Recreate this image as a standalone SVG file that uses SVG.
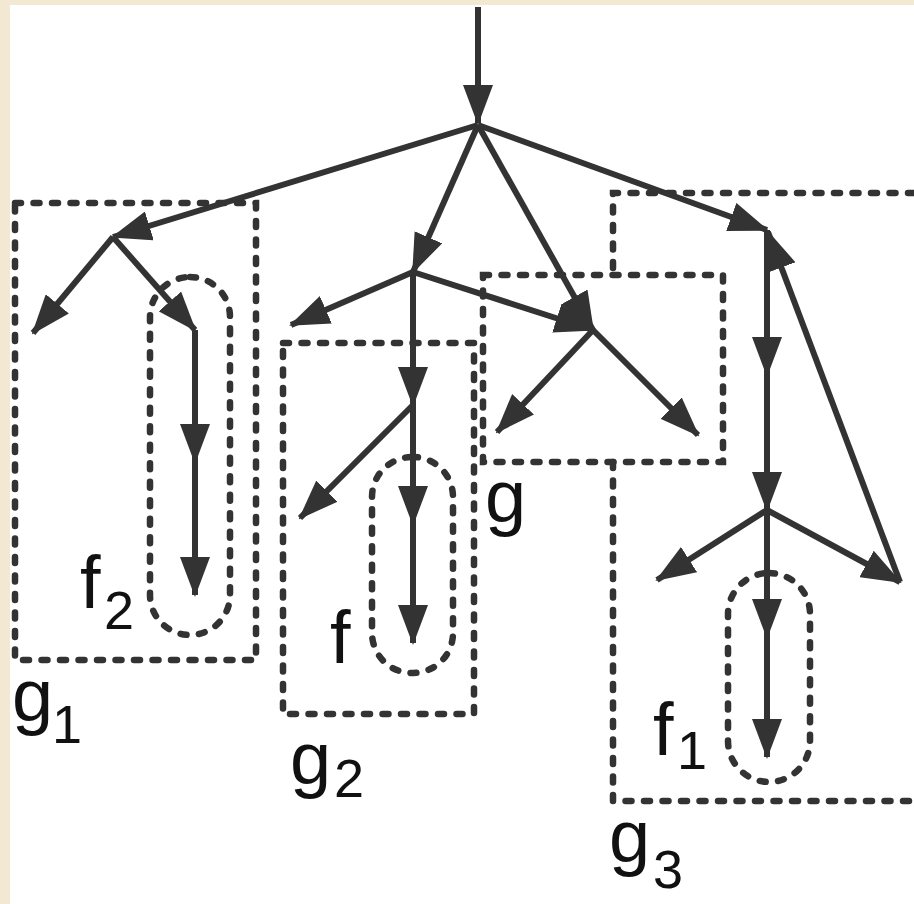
<svg xmlns="http://www.w3.org/2000/svg" width="914" height="904" viewBox="0 0 914 904">
<style>
.ln{stroke:#333;stroke-width:6;fill:none;marker-end:url(#ah)}
.dash{stroke:#333;stroke-width:6.5;fill:none;stroke-dasharray:6 12.5;stroke-linecap:round}
.lbl{font-family:"Liberation Sans",Arial,sans-serif;font-size:74px;fill:#111}
.sub{font-size:54px}
</style>
<defs>
<marker id="ah" markerWidth="40" markerHeight="30" refX="38" refY="15" orient="auto" markerUnits="userSpaceOnUse" viewBox="0 0 40 30"><path d="M0,0 L40,15 L0,30 z" fill="#333"/></marker>
</defs>
<rect x="0" y="0" width="914" height="904" fill="#fff"/>
<rect x="0" y="0" width="10" height="904" fill="#f3e9d2"/>
<rect x="0" y="0" width="914" height="5" fill="#f3e9d2"/>

<g id="g1">
<rect class="dash" x="15" y="203" width="241" height="457"/>
<text class="lbl" x="12" y="721">g<tspan class="sub" x="52" y="743">1</tspan></text>
</g>
<g id="f2">
<rect class="dash" x="150" y="277" width="80" height="358" rx="40"/>
<text class="lbl" x="80" y="608">f<tspan class="sub" x="104" y="629">2</tspan></text>
</g>
<g id="g2">
<rect class="dash" x="283" y="343" width="191" height="371"/>
<text class="lbl" x="290" y="784">g<tspan class="sub" x="334" y="797">2</tspan></text>
</g>
<g id="f">
<rect class="dash" x="372" y="457" width="81" height="216" rx="40"/>
<text class="lbl" x="330" y="663">f</text>
</g>
<g id="g">
<rect class="dash" x="483" y="275" width="240" height="187"/>
<text class="lbl" x="485" y="522">g</text>
</g>
<g id="g3">
<path class="dash" d="M914,193 H613 V275"/>
<path class="dash" d="M613,462 V801 H914"/>
<text class="lbl" x="609" y="862">g<tspan class="sub" x="653" y="888">3</tspan></text>
</g>
<g id="f1">
<rect class="dash" x="728" y="573" width="82" height="209" rx="41"/>
<text class="lbl" x="653" y="755">f<tspan class="sub" x="677" y="769">1</tspan></text>
</g>

<g id="connectors">
<line class="ln" x1="478" y1="7" x2="478" y2="123"/>
<line class="ln" x1="478" y1="125" x2="113" y2="237"/>
<line class="ln" x1="478" y1="125" x2="413" y2="272"/>
<line class="ln" x1="478" y1="125" x2="593" y2="330"/>
<line class="ln" x1="478" y1="125" x2="767" y2="230"/>
<line class="ln" x1="113" y1="237" x2="33" y2="333"/>
<line class="ln" x1="113" y1="237" x2="195" y2="330"/>
<line class="ln" x1="195" y1="330" x2="195" y2="462"/>
<line class="ln" x1="195" y1="462" x2="195" y2="595"/>
<line class="ln" x1="413" y1="272" x2="291" y2="325"/>
<line class="ln" x1="413" y1="272" x2="413" y2="405"/>
<line class="ln" x1="413" y1="272" x2="593" y2="330"/>
<line class="ln" x1="413" y1="405" x2="300" y2="518"/>
<line class="ln" x1="413" y1="405" x2="413" y2="524"/>
<line class="ln" x1="413" y1="524" x2="413" y2="643"/>
<line class="ln" x1="593" y1="330" x2="497" y2="432"/>
<line class="ln" x1="593" y1="330" x2="698" y2="435"/>
<line class="ln" x1="767" y1="230" x2="767" y2="375"/>
<line class="ln" x1="767" y1="375" x2="767" y2="510"/>
<line class="ln" x1="767" y1="510" x2="657" y2="580"/>
<line class="ln" x1="767" y1="510" x2="900" y2="582"/>
<line class="ln" x1="900" y1="582" x2="768" y2="232"/>
<line class="ln" x1="767" y1="510" x2="767" y2="637"/>
<line class="ln" x1="767" y1="637" x2="767" y2="757"/>
</g>
</svg>
